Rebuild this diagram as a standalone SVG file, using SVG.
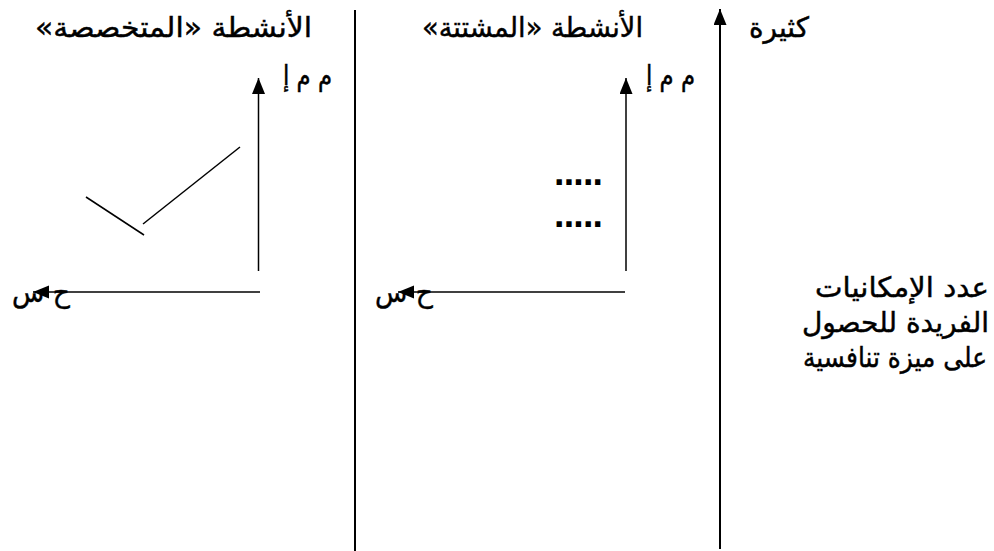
<svg xmlns="http://www.w3.org/2000/svg" width="994" height="551" viewBox="0 0 994 551">
  <style>
    .t { font-family: "DejaVu Sans", "Noto Sans", sans-serif; fill: #000; stroke: #000; stroke-width: 0.45px; }
    .big { font-size: 28px; }
    .small { font-size: 28px; }
    .ln { stroke: #000; fill: none; }
  </style>
  <defs>
    <marker id="ah" markerUnits="userSpaceOnUse" markerWidth="18" markerHeight="14" refX="16" refY="6.5" orient="auto">
      <path d="M0,0 L16,6.5 L0,13 z" fill="#000"/>
    </marker>
  </defs>
  <rect width="994" height="551" fill="#fff"/>

  <g id="connectors">
    <line class="ln" x1="355" y1="10" x2="355" y2="551" stroke-width="2"/>
    <line class="ln" x1="720" y1="549" x2="720" y2="9" stroke-width="2" marker-end="url(#ah)"/>
    <line class="ln" x1="258.5" y1="271" x2="258.5" y2="78" stroke-width="1.5" marker-end="url(#ah)"/>
    <line class="ln" x1="626" y1="271" x2="626" y2="78" stroke-width="1.5" marker-end="url(#ah)"/>
    <line class="ln" x1="260" y1="292" x2="33" y2="292" stroke-width="1.3" marker-end="url(#ah)"/>
    <line class="ln" x1="625" y1="292" x2="398" y2="292" stroke-width="1.3" marker-end="url(#ah)"/>
    <line class="ln" x1="86" y1="197" x2="144" y2="235" stroke-width="1.5"/>
    <line class="ln" x1="143" y1="224" x2="240" y2="147" stroke-width="1.5"/>
  </g>

  <g id="label-kathira">
    <text class="t big" x="779" y="37" text-anchor="middle" direction="rtl" textLength="60" lengthAdjust="spacingAndGlyphs">كثيرة</text>
  </g>
  <g id="label-dispersed">
    <text class="t big" x="532.5" y="37" text-anchor="middle" direction="rtl" textLength="221" lengthAdjust="spacingAndGlyphs">الأنشطة «المشتتة»</text>
  </g>
  <g id="label-specialized">
    <text class="t big" x="173.5" y="37" text-anchor="middle" direction="rtl" textLength="277" lengthAdjust="spacingAndGlyphs">الأنشطة «المتخصصة»</text>
  </g>
  <g id="label-mmi-left">
    <text class="t small" x="307.5" y="85" text-anchor="middle" direction="rtl" textLength="49" lengthAdjust="spacingAndGlyphs">م م إ</text>
  </g>
  <g id="label-mmi-right">
    <text class="t small" x="670.5" y="85" text-anchor="middle" direction="rtl" textLength="49" lengthAdjust="spacingAndGlyphs">م م إ</text>
  </g>
  <g id="label-hs-left">
    <text class="t big" x="41" y="302" text-anchor="middle" direction="rtl" textLength="58" lengthAdjust="spacingAndGlyphs">ح س</text>
  </g>
  <g id="label-hs-right">
    <text class="t big" x="404" y="302" text-anchor="middle" direction="rtl" textLength="58" lengthAdjust="spacingAndGlyphs">ح س</text>
  </g>
  <g id="dots">
    <text class="t" style="font-size:30px;font-weight:bold;stroke-width:0" x="578.5" y="185" text-anchor="middle" textLength="50" lengthAdjust="spacing">.....</text>
    <text class="t" style="font-size:30px;font-weight:bold;stroke-width:0" x="578.5" y="227" text-anchor="middle" textLength="50" lengthAdjust="spacing">.....</text>
  </g>
  <g id="label-count">
    <text class="t big" x="902" y="297" text-anchor="middle" direction="rtl" textLength="174" lengthAdjust="spacingAndGlyphs">عدد الإمكانيات</text>
    <text class="t big" x="895.5" y="332" text-anchor="middle" direction="rtl" textLength="187" lengthAdjust="spacingAndGlyphs">الفريدة للحصول</text>
    <text class="t big" x="895" y="367" text-anchor="middle" direction="rtl" textLength="184" lengthAdjust="spacingAndGlyphs">على ميزة تنافسية</text>
  </g>
</svg>
